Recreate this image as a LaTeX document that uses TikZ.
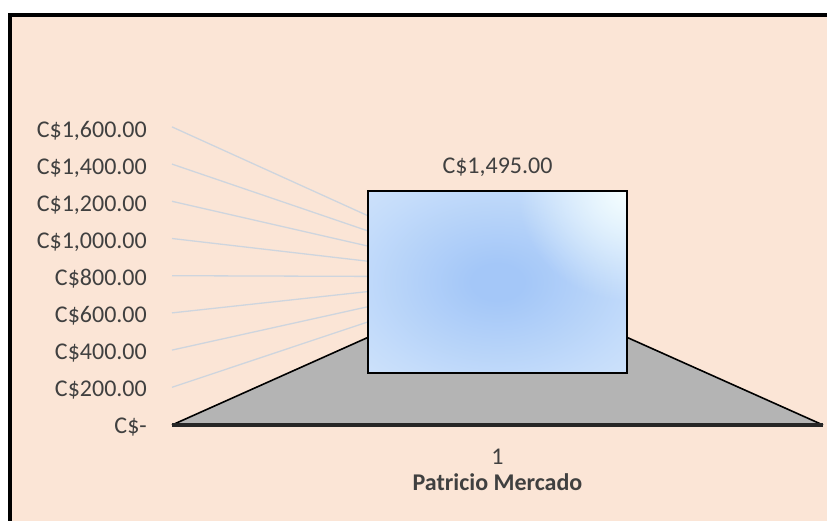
\documentclass[tikz,border=0pt]{standalone}
\usepackage{fontspec}
\setmainfont{Carlito}
\usetikzlibrary{fadings}
\definecolor{bgpeach}{RGB}{251,229,214}
\definecolor{txt}{RGB}{64,64,64}
\definecolor{gridc}{RGB}{206,213,222}
\definecolor{floorc}{RGB}{180,180,180}
\definecolor{flooredge}{RGB}{38,38,38}
\definecolor{boxin}{RGB}{164,199,248}
\definecolor{boxa}{RGB}{196,220,250}
\definecolor{boxmid}{RGB}{222,235,252}
\definecolor{boxout}{RGB}{238,245,254}
\definecolor{boxcorner}{RGB}{245,255,255}
\pgfdeclareradialshading{boxglow}{\pgfpoint{0bp}{0bp}}{color(0bp)=(boxin); color(5bp)=(boxin); color(28bp)=(boxa); color(50bp)=(boxmid); color(72bp)=(boxout)}
\tikzfading[name=cornerglow, inner color=transparent!0, outer color=transparent!100]
\tikzset{
  axislabel/.style={anchor=base east, text=txt, inner sep=0pt, font=\fontsize{24}{28}\selectfont},
  centrelabel/.style={anchor=base, text=txt, inner sep=0pt, font=\fontsize{24}{28}\selectfont},
  gridline/.style={draw=gridc, line width=1.3pt},
}
\begin{document}
\begin{tikzpicture}[x=1pt,y=-1pt]
\useasboundingbox (0,0) rectangle (827,521);
\clip (0,0) rectangle (827,521);
\fill[white] (0,0) rectangle (827,521);
% chart frame
\fill[bgpeach] (10,15) rectangle (840,540);
\draw[line width=4pt, black] (10,540) -- (10,15) -- (840,15);
% floor
\coordinate (fl) at (172,425);
\coordinate (fr) at (823,425);
\coordinate (tl) at (380,332);
\coordinate (tr) at (615,332);
\fill[floorc] (fl) -- (tl) -- (tr) -- (fr) -- cycle;
\draw[line width=1.6pt, black] (fl) -- (tl);
\draw[line width=1.6pt, black] (fr) -- (tr);
\draw[line width=3.5pt, flooredge] (fl) -- (fr);
% axis labels and gridlines
\node[axislabel] (l0) at (147,433.5) {C\$-};
\foreach \i/\t in {1/C\$200.00,2/C\$400.00,3/C\$600.00,4/C\$800.00,5/C\$1{,}000.00,6/C\$1{,}200.00,7/C\$1{,}400.00,8/C\$1{,}600.00}{
  \node[axislabel] (l\i) at (147,{433.5-37.05*\i}) {\t};
  \coordinate (gs\i) at (172,{424.5-37.2*\i});
  \coordinate (ge\i) at (368,{337-15.15*\i});
  \draw[gridline] (gs\i) -- (ge\i);
}
% bar
\node[draw=none, minimum width=259pt, minimum height=182pt, inner sep=0pt] (bar) at (497.5,282) {};
\shade[shading=boxglow] (bar.north west) rectangle (bar.south east);
\begin{scope}
  \clip (bar.north west) rectangle (bar.south east);
  \fill[boxcorner, path fading=cornerglow] (bar.north east) circle (110);
\end{scope}
\draw[line width=2pt, black] (bar.north west) rectangle (bar.south east);
% labels
\node[centrelabel] (val) at (497.5,174) {C\$1,495.00};
\node[centrelabel] (cat) at (497.5,464) {1};
\node[centrelabel, font=\fontsize{24}{28}\selectfont\bfseries] (name) at (497.5,490) {Patricio Mercado};
\end{tikzpicture}
\end{document}
